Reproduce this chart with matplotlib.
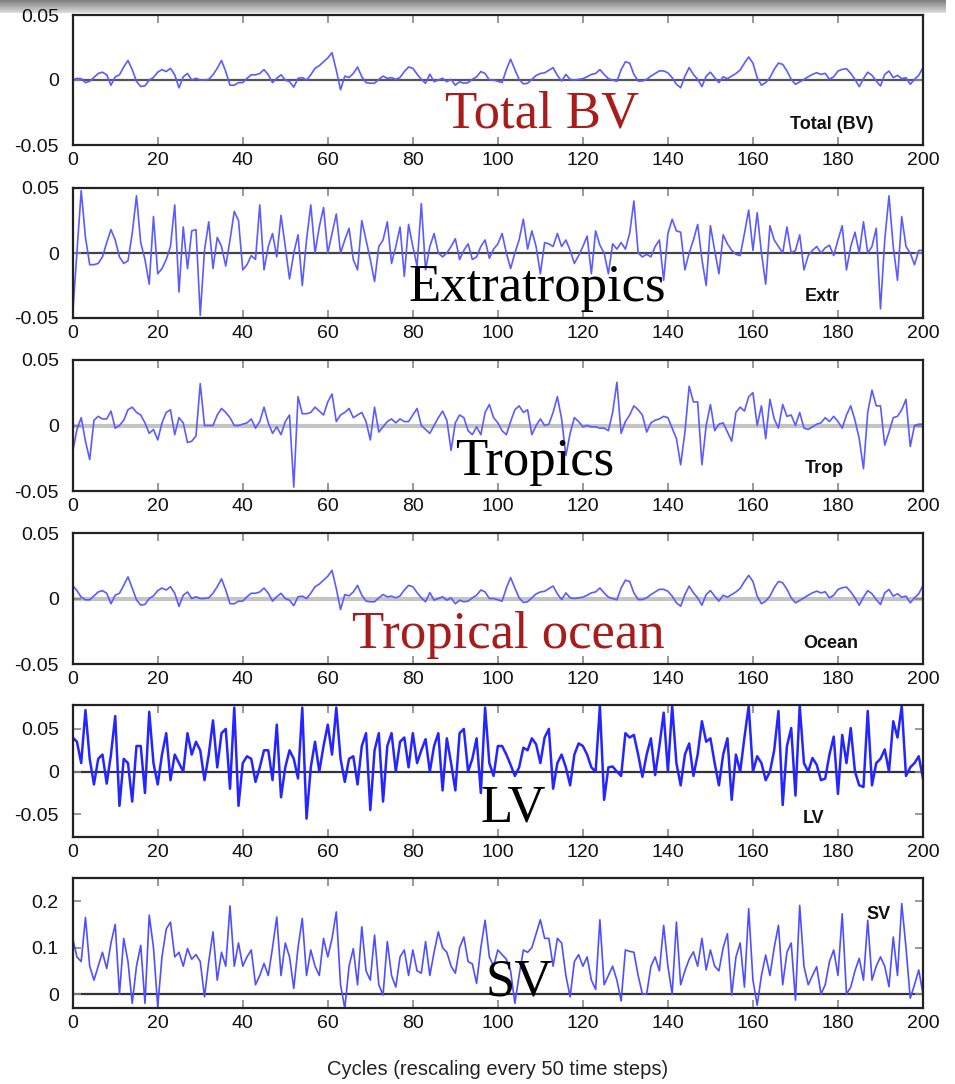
import numpy as np
import matplotlib
matplotlib.use('Agg')
import matplotlib.pyplot as plt

plt.rcParams['font.family'] = ['Liberation Sans', 'DejaVu Sans']
plt.rcParams['axes.unicode_minus'] = False

# cycle axis
cycles = np.arange(201)
x_ticks = [0, 20, 40, 60, 80, 100, 120, 140, 160, 180, 200]

# series, in units of 1e-3
total_bv = [
    0, 1.3, 1, -2, -1, 2, 5, 6, 4, -4,
    2.5, 4, 10, 15, 8, -1, -5, -4.5, 0, 2,
    6, 8, 6.5, 9, 4, -6, 2.5, 5, 0, 1.3,
    0, 0, 0.5, 4, 9, 15, 6.5, -4, -4, -2,
    -2, 1.3, 4, 4, 5, 8, 4, -2, 1.3, 4,
    0, -1.3, -5.5, 1.3, 1.8, 0, 4, 9, 11, 14,
    17, 21, 7.5, -7.5, 3, 2, 5, 10, 2.5, -2,
    -2.5, -2.5, 0.5, 3, 1.3, 1.8, 0.5, 2, 6.5, 10,
    9, 4.5, 0.5, -2.5, 4.5, -1.3, 0, 1.3, -1.3, 0.5,
    -4, -1.3, -2.5, -2, 0.5, 2.5, 6.5, 5, 0, 0,
    -1, -2, 8, 16, 8, 0.5, -3, -2.5, 0.5, 3.5,
    5, 5.5, 7.5, 9.5, 3.5, -0.8, 4.3, 0.5, 0, 0.5,
    1, 2.5, 4.3, 5, 8, 4.3, 1, 0, -1, 8,
    14, 13, 4.3, -0.8, -0.8, 0.5, 3, 5, 7, 7,
    5.5, 1.8, -3.3, -5.9, 3, 9.5, 4.3, 0.5, -5.1, 3,
    6, 1.8, -2, 2.5, 1, 3, 5, 7.7, 13, 17.7,
    13, 1.8, -4, -2, 1.8, 8.2, 13, 12, 7, 0.5,
    -3.3, -1.5, 0.5, 2.5, 4.3, 5.6, 4.3, 5.1, 0.5, 2.5,
    6.9, 8.2, 8.7, 5.1, 0.5, -5.1, 1, 6, 3.6, -0.8,
    -4.6, 4.3, 6.9, 1.8, 3.6, 1, 1.8, -3.3, 0.5, 3.6,
    9.5,
]

extratropics = [
    -47, 0, 48, 12, -9, -9, -8, -3, 8, 18,
    10, -3, -8, -6, 15, 44, 8, -5, -24, 28,
    -16, -12, -5, 5, 37, -30, 20, -12, 17, 18,
    -48, 2, 24, -12, 12, 5, -10, 10, 32, 25,
    -13, -9, -2, -5, 37, -13, 5, 15, -3, 29,
    5, -20, 0, 14, -25, 10, 37, 0, 20, 35,
    0, 15, 30, 0, 10, 19, -5, -13, 25, 10,
    -5, -22, 5, 10, 24, -8, 5, 20, -18, 22,
    5, -10, 38, -13, 5, 15, 0, -3, 0, 5,
    11, -5, 2, 7, -5, -3, 5, 10, -4, 3,
    7, 15, 0, -12, 0, 10, 26, 3, 17, 5,
    -16, 8, 7, 5, 15, 5, 10, 2, -8, -2,
    5, 13, -16, 17, 6, 0, -16, 7, 3, 8,
    3, 15, 40, 0, -3, -1, -3, 5, 10, -21,
    15, 26, 17, 16, -13, 0, 10, 22, -5, -25,
    21, 2, -16, 14, 7, 2, -1, -2, 15, 33,
    2, 31, 0, -24, 21, 10, 5, 0, 20, 0,
    2, 14, -13, -2, 2, 5, 0, 4, 6, -2,
    10, 21, -13, 5, 16, 0, 24, 0, 5, 19,
    -43, 10, 44, 5, -21, 28, 5, 0, -9, 2,
    2,
]

tropics = [
    -20, -3, 6, -12, -26, 4, 7, 5, 5, 11,
    -2, 0, 4, 12, 14, 10, 8, 2, -6, -3,
    -11, 2, 10, 12, -7, 6, 2, -13, -12, -8,
    32, 0, 0, 0, 8, 13, 10, 6, 0, 0,
    1, 2, 5, -2, 3, 14, 2, -6, -1, -7,
    3, 8, -47, 22, 9, 9, 10, 14, 11, 8,
    18, 24, 3, 8, 10, 13, 6, 8, 10, 3,
    -11, 14, -5, -1, 3, 5, 2, 5, 3, 3,
    8, 13, 0, -3, -6, 0, 6, 11, 4, -19,
    2, 8, 6, -4, -7, -1, -7, 10, 16, 6,
    2, -4, -7, 3, 12, 15, 10, 12, -7, 0,
    5, 0, 1, 10, 22, 5, -23, -6, 6, 3,
    -1, 0, -1, -1, -2, -2, -4, 10, 33, -6,
    3, 8, 15, 12, 8, -5, 2, 4, 5, 7,
    6, -2, -10, -30, -5, 30, 18, 18, -30, 0,
    16, -4, 1, 2, -5, -12, 10, 14, 11, 22,
    25, 0, 15, -10, 20, 5, -2, 16, 7, 8,
    0, 10, -2, -3, -1, 1, 2, 6, 3, 7,
    3, -2, 8, 15, 4, -10, -33, 10, 27, 15,
    15, -15, -5, 6, 7, 12, 20, -16, 0, 1,
    1,
]

tropical_ocean = [
    10, 6, 1, -1, -1, 2, 5, 6, 4, -4,
    2.5, 4, 10, 16.5, 8, -1, -5, -4.5, 0, 2,
    6, 8, 6.5, 9, 4, -6, 2.5, 5, 0, 1.3,
    0, 0, 0.5, 4, 9, 15, 6.5, -4, -4, -2,
    -2, 1.3, 4, 4, 5, 8, 4, -2, 1.3, 4,
    0, -1.3, -5.5, 1.3, 1.8, 0, 4, 9, 11, 14,
    17, 21.5, 7.5, -8.4, 3, 2, 5, 10, 2.5, -2,
    -2.5, -2.5, 0.5, 3, 1.3, 1.8, 0.5, 2, 6.5, 10,
    9, 4.5, 0.5, -2.5, 4.5, -1.3, 0, 1.3, -1.3, 0.5,
    -4, -1.3, -2.5, -2, 0.5, 2.5, 6.5, 5, 0, 0,
    -1, -2, 8, 16, 8, 0.5, -3, -2.5, 0.5, 3.5,
    5, 5.5, 7.5, 9.5, 3.5, -0.8, 4.3, 0.5, 0, 0.5,
    1, 2.5, 4.3, 5, 8, 4.3, 1, 0, -1, 8,
    14, 13, 4.3, -0.8, -0.8, 0.5, 3, 5, 7, 7,
    5.5, 1.8, -3.3, -5.9, 3, 9.5, 4.3, 0.5, -5.1, 3,
    6, 1.8, -2, 2.5, 1, 3, 5, 7.7, 13, 17.7,
    13, 1.8, -4, -2, 1.8, 8.2, 13, 12, 7, 0.5,
    -3.3, -1.5, 0.5, 2.5, 4.3, 5.6, 4.3, 5.1, 0.5, 2.5,
    6.9, 8.2, 8.7, 5.1, 0.5, -5.1, 1, 6, 3.6, -0.8,
    -4.6, 4.3, 6.9, 1.8, 3.6, 1, 1.8, -3.3, 0.5, 3.6,
    10,
]

lv = [
    40, 35, 10, 72, 15, -15, 15, 20, -14, 20,
    65, -40, 15, 10, -35, 30, 30, -25, 70, 10,
    -15, 20, 45, -10, 20, 10, 0, 45, 20, 35,
    25, -10, 20, 60, 5, 45, 50, -20, 75, -40,
    10, 18, 15, -12, 5, 25, 25, -10, 55, -30,
    5, 25, 15, -8, 75, -55, 5, 35, 0, 30,
    55, 20, 75, 15, -12, 15, 18, -15, 30, 45,
    -45, 25, 45, -35, 30, 45, 0, 35, 40, 5,
    45, 10, 25, 38, 0, 30, 45, -22, 39, 10,
    -22, 45, 50, 0, 15, 39, -25, 75, 10, -5,
    30, 30, 20, 8, -5, 5, 28, 25, 39, 32,
    10, 40, 50, -20, 10, 20, 5, -16, 20, 33,
    30, 20, 5, 0, 77, -33, 5, 6, 0, -5,
    45, 40, 43, 20, -6, 20, 39, -4, 30, 69,
    0, 77, 10, -16, 20, 33, -5, 20, 59, 35,
    39, 10, -16, 20, 39, -33, 20, 0, 40, 77,
    0, 18, 10, -10, 0, 25, 71, -39, 30, 51,
    -28, 77, 10, 0, 16, 8, -10, -8, 20, 41,
    -26, 43, 10, 51, 0, -16, -18, 71, -16, 10,
    15, 26, 0, 59, 40, 77, -5, 5, 10, 18,
    -8,
]

sv = [
    120, 80, 70, 165, 60, 30, 60, 90, 55, 110,
    150, 0, 120, 70, -20, 60, 105, -20, 170, 100,
    -27, 80, 140, 155, 80, 90, 60, 98, 75, 85,
    70, -6, 70, 134, 30, 90, 60, 190, 60, 110,
    60, 80, 95, 20, 40, 66, 40, 100, 166, 40,
    110, 80, 12, 100, 163, 40, 95, 60, 40, 120,
    80, 120, 177, 20, -31, 60, 98, 20, 145, 50,
    30, 127, 20, -2, 113, 40, 15, 80, 95, 40,
    95, 50, 45, 113, 40, 90, 134, 100, 90, 60,
    45, 100, 123, 70, 65, 23, 100, 159, 80, 60,
    95, 85, 75, 50, -20, 40, 95, 90, 100, 130,
    160, 120, 120, 60, 120, 110, 40, -6, 70, 85,
    60, 80, 30, 10, 160, 20, 40, 60, 30, -15,
    95, 92, 90, 40, 0, 0, 60, 80, 50, 148,
    60, 0, 155, 20, 50, 75, 91, 60, 120, 52,
    95, 60, 50, 100, 130, -2, 80, 110, 15, 184,
    30, -24, 40, 84, 40, 100, 148, 20, 90, 110,
    -13, 191, 60, 20, 40, 59, 0, 20, 70, 95,
    40, 173, 0, 15, 50, 77, 30, 159, 30, 60,
    80, 60, 16, 123, 40, 195, 100, -9, 20, 52,
    0,
]

big_labels = ['Total BV', 'Extratropics', 'Tropics', 'Tropical ocean', 'LV', 'SV']
small_labels = ['Total (BV)', 'Extr', 'Trop', 'Ocean', 'LV', 'SV']
x_label = 'Cycles (rescaling every 50 time steps)'

W, H = 955, 1084
AX_L, AX_R = 72.7, 923

panels = [
    dict(y=total_bv, top=15, bot=145, ylim=(-0.05, 0.05), yticks=[-0.05, 0, 0.05],
         ylabels=['-0.05', '0', '0.05'], zc='#555555', zw=1.6, lc='#5b5bff', lw=1.2,
         big=(445, 128, '#a81c1c'), small=(790, 129)),
    dict(y=extratropics, top=188, bot=318, ylim=(-0.05, 0.05), yticks=[-0.05, 0, 0.05],
         ylabels=['-0.05', '0', '0.05'], zc='#444444', zw=1.6, lc='#5b5bff', lw=1.2,
         big=(408, 301, 'black'), small=(805, 301)),
    dict(y=tropics, top=360, bot=491, ylim=(-0.05, 0.05), yticks=[-0.05, 0, 0.05],
         ylabels=['-0.05', '0', '0.05'], zc='#c4c4c4', zw=3.0, lc='#5b5bff', lw=1.2,
         big=(455, 475, 'black'), small=(805, 473)),
    dict(y=tropical_ocean, top=533, bot=664, ylim=(-0.05, 0.05), yticks=[-0.05, 0, 0.05],
         ylabels=['-0.05', '0', '0.05'], zc='#c4c4c4', zw=3.0, lc='#5b5bff', lw=1.2,
         big=(352, 648, '#a81c1c'), small=(803, 648)),
    dict(y=lv, top=705, bot=837, ylim=(-0.0765, 0.078), yticks=[-0.05, 0, 0.05],
         ylabels=['-0.05', '0', '0.05'], zc='#333333', zw=1.6, lc='#2525ff', lw=1.8,
         big=(480, 822, 'black'), small=(803, 823)),
    dict(y=sv, top=878, bot=1008, ylim=(-0.03, 0.25), yticks=[0, 0.1, 0.2],
         ylabels=['0', '0.1', '0.2'], zc='#333333', zw=1.6, lc='#4f4fff', lw=1.2,
         big=(485, 996, 'black'), small=(866, 919)),
]

fig = plt.figure(figsize=(W / 100, H / 100), dpi=100)

# grey window strip along the top edge
bar = fig.add_axes([0, 1 - 13 / H, 945 / W, 13 / H])
bar.imshow(np.linspace(0.5, 0.86, 20).reshape(-1, 1), cmap='gray', vmin=0, vmax=1,
           aspect='auto', extent=(0, 1, 0, 1))
bar.axis('off')

for p, big, small in zip(panels, big_labels, small_labels):
    ax = fig.add_axes([AX_L / W, 1 - p['bot'] / H, (AX_R - AX_L) / W, (p['bot'] - p['top']) / H])
    ax.axhline(0, color=p['zc'], lw=p['zw'], zorder=1)
    ax.plot(cycles, np.array(p['y']) * 1e-3, color=p['lc'], lw=p['lw'], zorder=2)
    ax.set_xlim(0, 200)
    ax.set_ylim(*p['ylim'])
    ax.set_xticks(x_ticks)
    ax.set_xticklabels([str(t) for t in x_ticks])
    ax.set_yticks(p['yticks'])
    ax.set_yticklabels(p['ylabels'])
    ax.tick_params(direction='in', length=6, width=1.2, color='#888888',
                   top=True, right=True, labelsize=14, labelcolor='#111111')
    ax.tick_params(axis='x', pad=5)
    ax.tick_params(axis='y', pad=10)
    for s in ax.spines.values():
        s.set_linewidth(1.6)
        s.set_color('#222222')

    bx, by, bc = p['big']
    fig.text(bx / W, 1 - by / H, big, fontsize=38, color=bc, family='Liberation Serif',
             ha='left', va='baseline')
    sx, sy = p['small']
    fig.text(sx / W, 1 - sy / H, small, fontsize=13, fontweight='bold', color='#111111',
             ha='left', va='baseline')

fig.text(498 / W, 1 - 1075 / H, x_label, fontsize=14.5, color='#222222',
         ha='center', va='baseline')

fig.savefig('out.png', dpi=100)
